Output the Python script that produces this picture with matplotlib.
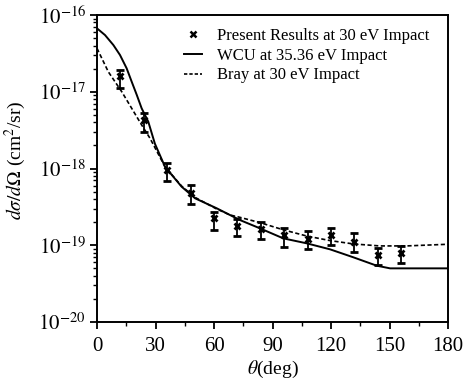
import numpy as np
import matplotlib
matplotlib.use("Agg")
import matplotlib.pyplot as plt
from matplotlib.lines import Line2D
from matplotlib.ticker import LogLocator, FixedLocator, NullFormatter

plt.rcParams['font.family'] = ['Liberation Serif', 'DejaVu Serif']
plt.rcParams['mathtext.fontset'] = 'stix'

# Measured data (present results)
theta_exp = [12, 24, 36, 48, 60, 72, 84, 96, 108, 120, 132, 144, 156]
dcs_exp = [1.60e-17, 4.28e-18, 9.55e-19, 4.84e-19, 2.24e-19, 1.78e-19, 1.61e-19,
           1.36e-19, 1.20e-19, 1.36e-19, 1.11e-19, 7.46e-20, 7.85e-20]
dcs_hi = [1.92e-17, 5.24e-18, 1.19e-18, 6.09e-19, 2.74e-19, 2.20e-19, 2.03e-19,
          1.66e-19, 1.53e-19, 1.66e-19, 1.43e-19, 9.12e-20, 9.77e-20]
dcs_lo = [1.12e-17, 3.02e-18, 6.93e-19, 3.45e-19, 1.58e-19, 1.32e-19, 1.20e-19,
          9.57e-20, 8.85e-20, 1.01e-19, 8.24e-20, 5.53e-20, 5.82e-20]

# WCU theory at 35.36 eV
theta_wcu = [0, 4.1, 8.4, 11.8, 15.2, 17.8, 20.4, 22.9, 26.3, 29.7, 34.9, 43.4,
             50.3, 61.4, 73.3, 83.6, 95.5, 107.5, 119.5, 131.5, 143.4, 150.3, 180]
dcs_wcu = [6.7e-17, 5.48e-17, 4.06e-17, 3.01e-17, 2.02e-17, 1.35e-17, 9.08e-18,
           6.08e-18, 4.07e-18, 2.1e-18, 1.05e-18, 5.79e-19, 4.09e-19, 3.03e-19,
           2.13e-19, 1.66e-19, 1.23e-19, 1.06e-19, 8.85e-20, 6.96e-20, 5.42e-20,
           5.0e-20, 5.0e-20]

# Bray theory at 30 eV
theta_bray = [0, 5.8, 12.7, 17.8, 22.9, 27.2, 34.9, 43.4, 50.3, 61.0, 68.2, 73.3,
              83.6, 95.5, 107.5, 119.5, 131.5, 145, 158.8, 180]
dcs_bray = [3.68e-17, 1.82e-17, 1.0e-17, 6.08e-18, 3.69e-18, 2.47e-18, 1.05e-18,
            5.9e-19, 4.2e-19, 3.0e-19, 2.48e-19, 2.31e-19, 1.97e-19, 1.59e-19,
            1.32e-19, 1.15e-19, 1.04e-19, 9.8e-20, 9.8e-20, 1.03e-19]

x_ticks = [0, 30, 60, 90, 120, 150, 180]
y_ticks = [1e-20, 1e-19, 1e-18, 1e-17, 1e-16]
y_ticklabels = [r'$10^{-20}$', r'$10^{-19}$', r'$10^{-18}$', r'$10^{-17}$', r'$10^{-16}$']

fig = plt.figure(figsize=(4.69, 3.90), dpi=100)
ax = fig.add_axes([97/469, 68/390, 351/469, 307/390])

ax.set_yscale('log')
ax.set_xlim(0, 180)
ax.set_ylim(1e-20, 1e-16)

l_wcu, = ax.plot(theta_wcu, dcs_wcu, color='black', lw=1.4)
l_bray, = ax.plot(theta_bray, dcs_bray, color='black', lw=1.2, ls=(0, (2.5, 1.5)))

yerr = [np.array(dcs_exp) - np.array(dcs_lo), np.array(dcs_hi) - np.array(dcs_exp)]
ax.errorbar(theta_exp, dcs_exp, yerr=yerr, fmt='x', color='black', ms=5, mew=2,
            elinewidth=1.3, capsize=3, capthick=1.3)

ax.set_xticks(x_ticks)
ax.set_xticklabels([str(t) for t in x_ticks])
ax.xaxis.set_minor_locator(FixedLocator(np.arange(15, 180, 30)))
ax.set_yticks(y_ticks)
ax.set_yticklabels(y_ticklabels)
ax.yaxis.set_minor_locator(LogLocator(base=10, subs=np.arange(2, 10), numticks=20))
ax.yaxis.set_minor_formatter(NullFormatter())

ax.tick_params(axis='both', which='major', direction='out', length=5, width=1.3,
               labelsize=15, top=False, right=False)
ax.tick_params(axis='both', which='minor', direction='out', length=3, width=1.0,
               top=False, right=False)
ax.tick_params(axis='x', pad=6)
ax.tick_params(axis='y', pad=3)
for s in ax.spines.values():
    s.set_linewidth(1.4)

ax.set_xlabel(r'$\theta$(deg)', fontsize=14, labelpad=2)
ax.set_ylabel(r'$d\sigma/d\Omega$ (cm$^2$/sr)', fontsize=14)
ax.yaxis.set_label_coords(-0.197, 0.528)

h_exp = Line2D([], [], ls='none', marker='x', color='black', ms=4, mew=1.8)
h_wcu = Line2D([], [], color='black', lw=1.4)
h_bray = Line2D([], [], color='black', lw=1.2, ls=(0, (2.0, 1.2)))
leg = ax.legend([h_exp, h_wcu, h_bray],
                ['Present Results at 30 eV Impact', 'WCU at 35.36 eV Impact',
                 'Bray at 30 eV Impact'],
                loc='upper left', frameon=False, fontsize=12, handlelength=1.1,
                handletextpad=0.9, labelspacing=0.22, borderaxespad=0.0,
                borderpad=0.0, bbox_to_anchor=(87/351, 1 - 13/307))

fig.savefig('out.png', dpi=100)
